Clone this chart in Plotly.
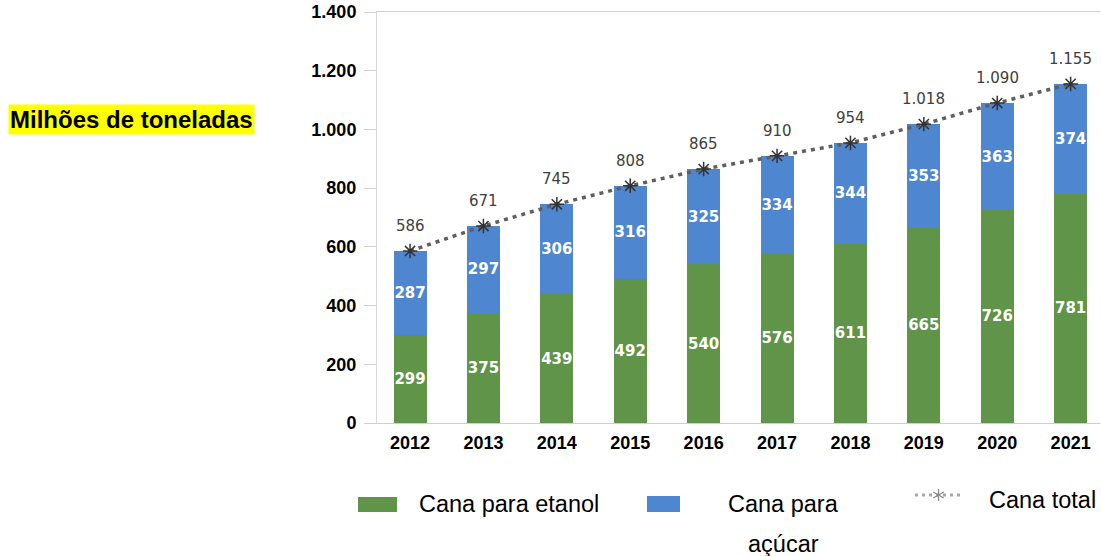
import plotly.graph_objects as go

# ---- data ----
years = ["2012", "2013", "2014", "2015", "2016", "2017", "2018", "2019", "2020", "2021"]
cana_etanol = [299, 375, 439, 492, 540, 576, 611, 665, 726, 781]
cana_acucar = [287, 297, 306, 316, 325, 334, 344, 353, 363, 374]
cana_total = [586, 671, 745, 808, 865, 910, 954, 1018, 1090, 1155]
y_ticks = [0, 200, 400, 600, 800, 1000, 1200, 1400]

GREEN = "#609448"
BLUE = "#4F86D0"
ARIAL = "Liberation Sans, Arial, sans-serif"
VERDANA = "DejaVu Sans, Verdana, sans-serif"

# plot area in pixels
L, R, T, B = 377, 1100, 12, 423
W, H = R - L, B - T


def px_x(px):
    return (px - L) / W


def px_y(py):
    return (B - py) / H


def fmt_pt(v):
    return f"{v:,}".replace(",", ".")


fig = go.Figure()

fig.add_trace(go.Bar(
    x=years, y=cana_etanol, name="Cana para etanol",
    marker=dict(color=GREEN, line=dict(width=0)),
    width=0.45,
    text=[str(v) for v in cana_etanol], textposition="inside",
    insidetextanchor="middle", textangle=0, constraintext="none",
    insidetextfont=dict(family=VERDANA, size=15, color="#ffffff", weight="bold"),
    showlegend=False,
))
fig.add_trace(go.Bar(
    x=years, y=cana_acucar, name="Cana para açúcar",
    marker=dict(color=BLUE, line=dict(width=0)),
    width=0.45,
    text=[str(v) for v in cana_acucar], textposition="inside",
    insidetextanchor="middle", textangle=0, constraintext="none",
    insidetextfont=dict(family=VERDANA, size=15, color="#ffffff", weight="bold"),
    showlegend=False,
))
fig.add_trace(go.Scatter(
    x=years, y=cana_total, name="Cana total", mode="lines+markers",
    line=dict(color="#5f5f5f", width=3.5, dash="4px,5px"),
    marker=dict(symbol="asterisk-open", size=12,
                line=dict(color="#333333", width=1.5), color="#333333"),
    showlegend=False,
))

annotations = []
for i, tot in enumerate(cana_total):
    annotations.append(dict(
        x=i, y=tot, xref="x", yref="y", text=fmt_pt(tot), showarrow=False,
        yshift=25, font=dict(family=VERDANA, size=15, color="#404040"),
    ))

# y-axis title box
annotations.append(dict(
    x=px_x(8), y=px_y(119.5), xref="paper", yref="paper",
    xanchor="left", yanchor="middle", showarrow=False,
    text="<b>Milhões de toneladas</b>", bgcolor="#FFFF00", borderpad=1,
    font=dict(family=ARIAL, size=24, color="#000000"),
))

# manual legend
shapes = [
    dict(type="rect", xref="paper", yref="paper",
         x0=px_x(358), x1=px_x(397), y0=px_y(512), y1=px_y(497),
         fillcolor=GREEN, line=dict(width=0)),
    dict(type="rect", xref="paper", yref="paper",
         x0=px_x(647), x1=px_x(680), y0=px_y(512), y1=px_y(496),
         fillcolor=BLUE, line=dict(width=0)),
    dict(type="line", xref="paper", yref="paper",
         x0=px_x(915), x1=px_x(962), y0=px_y(495), y1=px_y(495),
         line=dict(color="#a8a8a8", width=3, dash="3px,4px")),
]
cx, cy, r = 938.5, 495, 6
for dx, dy in [(0, 1), (0.87, 0.5), (0.87, -0.5)]:
    shapes.append(dict(type="line", xref="paper", yref="paper",
                       x0=px_x(cx - dx * r), x1=px_x(cx + dx * r),
                       y0=px_y(cy - dy * r), y1=px_y(cy + dy * r),
                       line=dict(color="#8a8a8a", width=1.3)))

leg_font = dict(family=ARIAL, size=23.5, color="#000000")
annotations += [
    dict(x=px_x(417), y=px_y(504), xref="paper", yref="paper", xanchor="left",
         yanchor="middle", showarrow=False, text="Cana para etanol", font=leg_font),
    dict(x=px_x(783), y=px_y(504), xref="paper", yref="paper", xanchor="center",
         yanchor="middle", showarrow=False, text="Cana para", font=leg_font),
    dict(x=px_x(783), y=px_y(544), xref="paper", yref="paper", xanchor="center",
         yanchor="middle", showarrow=False, text="açúcar", font=leg_font),
    dict(x=px_x(987), y=px_y(500), xref="paper", yref="paper", xanchor="left",
         yanchor="middle", showarrow=False, text="Cana total", font=leg_font),
]

fig.update_layout(
    width=1101, height=556, autosize=False,
    margin=dict(l=L, r=1101 - R, t=T, b=556 - B, pad=0),
    barmode="stack", bargap=0.55,
    plot_bgcolor="#ffffff", paper_bgcolor="#ffffff",
    separators=",.",
    annotations=annotations, shapes=shapes,
    showlegend=False,
)
fig.update_xaxes(
    type="category", range=[-0.45, 9.4],
    showline=True, mirror=True, linecolor="#cfcfcf", linewidth=1,
    showgrid=False, zeroline=False, ticks="", ticklabelstandoff=3,
    tickfont=dict(family=ARIAL, size=18, color="#000000", weight="bold"),
)
fig.update_yaxes(
    range=[0, 1400], tickvals=y_ticks, tickformat=",d",
    showline=True, linecolor="#d9d9d9", linewidth=1,
    showgrid=False, zeroline=False,
    ticks="outside", ticklen=12, tickcolor="#d0d0d0", tickwidth=1,
    ticklabelstandoff=4,
    tickfont=dict(family=ARIAL, size=18, color="#000000", weight="bold"),
)

fig.write_html("out.html",
               config={"displayModeBar": False},
               post_script="document.body.style.margin='0';document.body.style.overflow='hidden';")
